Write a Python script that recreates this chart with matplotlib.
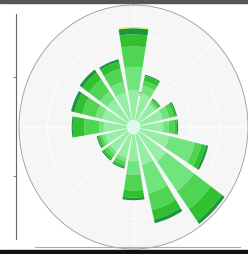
import numpy as np
import matplotlib
matplotlib.use('Agg')
from matplotlib import pyplot as plt
from matplotlib.lines import Line2D
from matplotlib.patches import Rectangle

# wind directions (compass, clockwise from north)
directions = ['N', 'NNE', 'NE', 'ENE', 'E', 'ESE', 'SE', 'SSE',
              'S', 'SSW', 'SW', 'WSW', 'W', 'WNW', 'NW', 'NNW']

# frequency (%) per speed class, stacked from the centre outwards
speed_1 = [0.6, 0.6, 0.6, 0.6, 0.6, 0.6, 0.6, 0.6, 0.6, 0.6, 0.6, 0.6, 0.6, 0.6, 0.6, 0.6]
speed_2 = [2.4, 2.2, 1.7, 2.0, 2.0, 2.6, 2.9, 2.6, 2.2, 2.0, 1.9, 1.9, 2.0, 2.2, 2.2, 2.3]
speed_3 = [1.9, 0.7, 0.2, 0.6, 0.5, 2.3, 3.0, 2.4, 1.1, 0.3, 0.3, 0.3, 0.4, 0.6, 0.8, 0.9]
speed_4 = [1.7, 0.4, 0.2, 0.4, 0.5, 0.6, 1.8, 1.4, 1.3, 0.3, 0.3, 0.2, 1.3, 1.2, 1.2, 1.1]
speed_5 = [1.0, 0.4, 0.15, 0.2, 0.2, 0.4, 1.2, 0.8, 0.6, 0.2, 0.2, 0.2, 1.0, 0.7, 0.7, 0.6]
speed_6 = [0.5, 0.1, 0.05, 0.1, 0.1, 0.2, 0.3, 0.3, 0.2, 0.1, 0.1, 0.1, 0.1, 0.3, 0.3, 0.2]
speed_7 = [0.1, 0.0, 0.0, 0.0, 0.0, 0.0, 0.0, 0.0, 0.0, 0.0, 0.0, 0.0, 0.0, 0.0, 0.0, 0.0]

speed_bins = [speed_1, speed_2, speed_3, speed_4, speed_5, speed_6, speed_7]
colors = ['#d6fae6', '#94efa4', '#72e47e', '#4fd553', '#30c030', '#1b9640', '#e6ee55']

r_ticks = [2.5, 5.0, 7.5]
r_max = 10.0

fig = plt.figure(figsize=(2.48, 2.55), dpi=100)
fig.patch.set_facecolor('white')

# leftover cartesian frame on the left
ax0 = fig.add_axes([16 / 248, 15 / 255, 0.5, 225 / 255])
for s in ['top', 'right', 'bottom']:
    ax0.spines[s].set_visible(False)
ax0.spines['left'].set_color('#666666')
ax0.spines['left'].set_linewidth(0.8)
ax0.set_xticks([])
ax0.set_ylim(0, 1)
ax0.set_yticks([0.28, 0.72])
ax0.set_yticklabels([])
ax0.tick_params(axis='y', length=2, color='#888888')
ax0.patch.set_alpha(0)

ax = fig.add_axes([19 / 248, 5 / 255, 229 / 248, 244 / 255], projection='polar')
ax.set_aspect('auto')
ax.set_theta_zero_location('N')
ax.set_theta_direction(-1)
ax.set_facecolor('#f6f6f6')

theta = np.arange(len(directions)) * 2 * np.pi / len(directions)
width = 2 * np.pi / len(directions) * 0.82

bottom = np.zeros(len(directions))
for vals, c in zip(speed_bins, colors):
    vals = np.array(vals)
    ax.bar(theta, vals, width=width, bottom=bottom, color=c,
           edgecolor='none', zorder=2)
    bottom += vals

ax.set_ylim(0, r_max)
ax.set_yticks(r_ticks)
ax.set_yticklabels([f'{t:.1f}' for t in r_ticks], fontsize=4, color='#5a7a5a')
ax.set_rlabel_position(0)
ax.set_xticks(np.arange(8) * np.pi / 4)
ax.set_xticklabels([])
ax.grid(True, color='white', linewidth=0.6)
ax.spines['polar'].set_color('#999999')
ax.spines['polar'].set_linewidth(0.6)

# screenshot edges
fig.add_artist(Line2D([35 / 248, 240 / 248], [7 / 255, 7 / 255],
                      color='#aaaaaa', linewidth=0.8))
fig.add_artist(Rectangle((0, 1 - 4 / 255), 1, 4 / 255, color='#555555',
                         transform=fig.transFigure))
fig.add_artist(Rectangle((0, 0), 1, 4 / 255, color='#111111',
                         transform=fig.transFigure))

plt.savefig('out.png', dpi=100)
